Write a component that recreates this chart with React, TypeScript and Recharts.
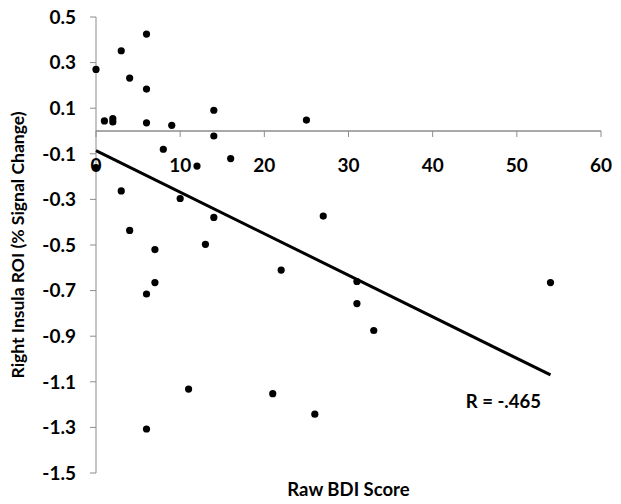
import React from 'react'
import { ComposedChart, Scatter, XAxis, YAxis, ReferenceLine, ReferenceDot } from 'recharts'

// BDI score vs. right insula signal change
const bdiScores = [0, 0, 1, 2, 2, 3, 3, 4, 4, 6, 6, 6, 6, 6, 7, 7, 8, 9, 10, 11, 12, 13, 14, 14, 14, 16, 21, 22, 25, 26, 27, 31, 31, 33, 54]
const insulaValues = [0.27, -0.16, 0.044, 0.054, 0.04, 0.352, -0.263, 0.232, -0.436, 0.425, 0.184, 0.036, -0.715, -1.307, -0.52, -0.665, -0.08, 0.025, -0.296, -1.132, -0.154, -0.497, 0.091, -0.022, -0.379, -0.121, -1.152, -0.61, 0.048, -1.242, -0.373, -0.66, -0.757, -0.875, -0.665]

const fitX = [0, 54]
const fitY = [-0.086, -1.07]

const xTicks = [0, 10, 20, 30, 40, 50, 60]
const yTicks = [-1.5, -1.3, -1.1, -0.9, -0.7, -0.5, -0.3, -0.1, 0.1, 0.3, 0.5]

const points = bdiScores.map((x, i) => ({ x, y: insulaValues[i] }))
const fitLine = fitX.map((x, i) => ({ x, y: fitY[i] }))

const W = 621
const H = 504
const MARGIN = { top: 17, right: 20, left: 0, bottom: 0 }
const Y_AXIS_W = 96
const X_AXIS_H = 31
const Y_MIN = -1.5
const Y_MAX = 0.5
const plotH = H - MARGIN.top - MARGIN.bottom - X_AXIS_H
const zeroY = MARGIN.top + ((Y_MAX - 0) / (Y_MAX - Y_MIN)) * plotH

const FONT = 'Lato, "Open Sans", sans-serif'
const AXIS = '#8c8c8c'
const TICK_FS = 19

const Dot = (props: any) => <circle cx={props.cx} cy={props.cy} r={3.6} fill="#000" />

const XTick = (props: any) => {
  const { x, payload } = props
  return (
    <g>
      <line x1={x} x2={x} y1={zeroY} y2={zeroY + 6} stroke={AXIS} strokeWidth={1} />
      <text x={x} y={zeroY + 36} textAnchor="middle" dominantBaseline="middle"
        fontFamily={FONT} fontWeight={700} fontSize={TICK_FS} fill="#000">
        {payload.value}
      </text>
    </g>
  )
}

export default function App() {
  return (
    <div style={{ position: 'absolute', left: 0, top: 0, background: '#fff' }}>
      <ComposedChart width={W} height={H} margin={MARGIN}>
        <XAxis type="number" dataKey="x" domain={[0, 60]} ticks={xTicks}
          axisLine={false} tickLine={false} tick={<XTick />} height={X_AXIS_H}
          label={{ value: 'Raw BDI Score', position: 'insideBottom', offset: 8,
            style: { fontFamily: FONT, fontWeight: 700, fontSize: 18.5, fill: '#000' } }} />
        <YAxis type="number" dataKey="y" domain={[Y_MIN, Y_MAX]} ticks={yTicks} width={Y_AXIS_W}
          stroke={AXIS} tickSize={6} tickMargin={14} interval={0}
          tick={{ fontFamily: FONT, fontWeight: 700, fontSize: TICK_FS, fill: '#000' }}
          label={{ value: 'Right Insula ROI (% Signal Change)', angle: -90, position: 'insideLeft', offset: 18,
            style: { textAnchor: 'middle', fontFamily: FONT, fontWeight: 700, fontSize: 17.5, fill: '#000' } }} />
        <ReferenceLine y={0} stroke={AXIS} strokeWidth={1.5} />
        <Scatter data={points} shape={<Dot />} isAnimationActive={false} />
        <Scatter data={fitLine} line={{ stroke: '#000', strokeWidth: 3 }} shape={() => null}
          isAnimationActive={false} />
        <ReferenceDot x={48.4} y={-1.184} r={0} fill="none" stroke="none"
          label={{ value: 'R = -.465', position: 'center',
            style: { fontFamily: FONT, fontWeight: 700, fontSize: 18.5, fill: '#000' } }} />
      </ComposedChart>
    </div>
  )
}
